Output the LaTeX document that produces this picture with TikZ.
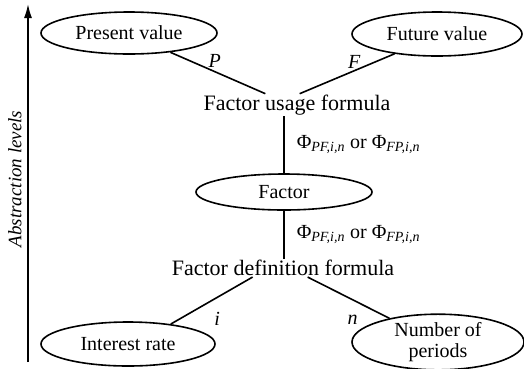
\documentclass[tikz,border=0pt]{standalone}
\usepackage{fontspec}
\setmainfont{Liberation Serif}
\usetikzlibrary{shapes.geometric,positioning,arrows.meta}

\begin{document}
\begin{tikzpicture}[x=1pt,y=-1pt]
  % Settings
  \tikzset{
    level/.style={draw, shape=ellipse, line width=1.6pt, inner sep=0pt, align=center, font=\fontsize{20}{21}\selectfont},
    formula/.style={inner sep=1pt, font=\fontsize{22}{24}\selectfont},
    link/.style={line width=1.6pt},
    var/.style={font=\fontsize{20}{22}\selectfont\itshape, inner sep=2pt},
    phi/.style={font=\fontsize{20}{22}\selectfont, inner sep=0pt},
  }
  \useasboundingbox (0,0) rectangle (524,368);
  % Nodes
  \node[level, minimum width=176, minimum height=42] (pv) at (129,33) {Present value};
  \node[level, minimum width=170, minimum height=44] (fv) at (437,34) {Future value};
  \node[formula] (usage) at (297,105) {Factor usage formula};
  \node[level, minimum width=176, minimum height=36] (factor) at (284,192) {Factor};
  \node[formula] (defn) at (283,268) {Factor definition formula};
  \node[level, minimum width=174, minimum height=44] (ir) at (128,344) {Interest rate};
  \node[level, minimum width=172, minimum height=48] (np) at (438,342) {Number of\\periods};
  % Axis
  \coordinate (axbot) at (28,362);
  \coordinate (axtop) at (28,4);
  \draw[line width=1.6pt, -{Latex[length=14pt, width=8pt]}] (axbot) -- (axtop);
  \node[rotate=90, font=\fontsize{19}{20}\selectfont\itshape] (axlabel) at (15,179) {Abstraction levels};
  % Arrows
  \draw[link] (pv.-25) -- ([xshift=63]usage.north west) node[var, midway, above right, xshift=-12, yshift=3] {P};
  \draw[link] (fv.-155) -- ([xshift=-92]usage.north east) node[var, midway, above left, xshift=16, yshift=2] {F};
  \draw[link] (usage.south -| factor.north) -- (factor.north)
    node[phi, midway, right, xshift=12] {Φ\textsubscript{\itshape PF,i,n} or Φ\textsubscript{\itshape FP,i,n}};
  \draw[link] (factor.south) -- (factor.south |- defn.north)
    node[phi, midway, right, xshift=12] {Φ\textsubscript{\itshape PF,i,n} or Φ\textsubscript{\itshape FP,i,n}};
  \draw[link] ([xshift=82]defn.south west) -- (ir.25) node[var, midway, below right, yshift=-9] {i};
  \draw[link] ([xshift=137]defn.south west) -- (np.154) node[var, midway, below left, xshift=12, yshift=-15] {n};
\end{tikzpicture}
\end{document}
